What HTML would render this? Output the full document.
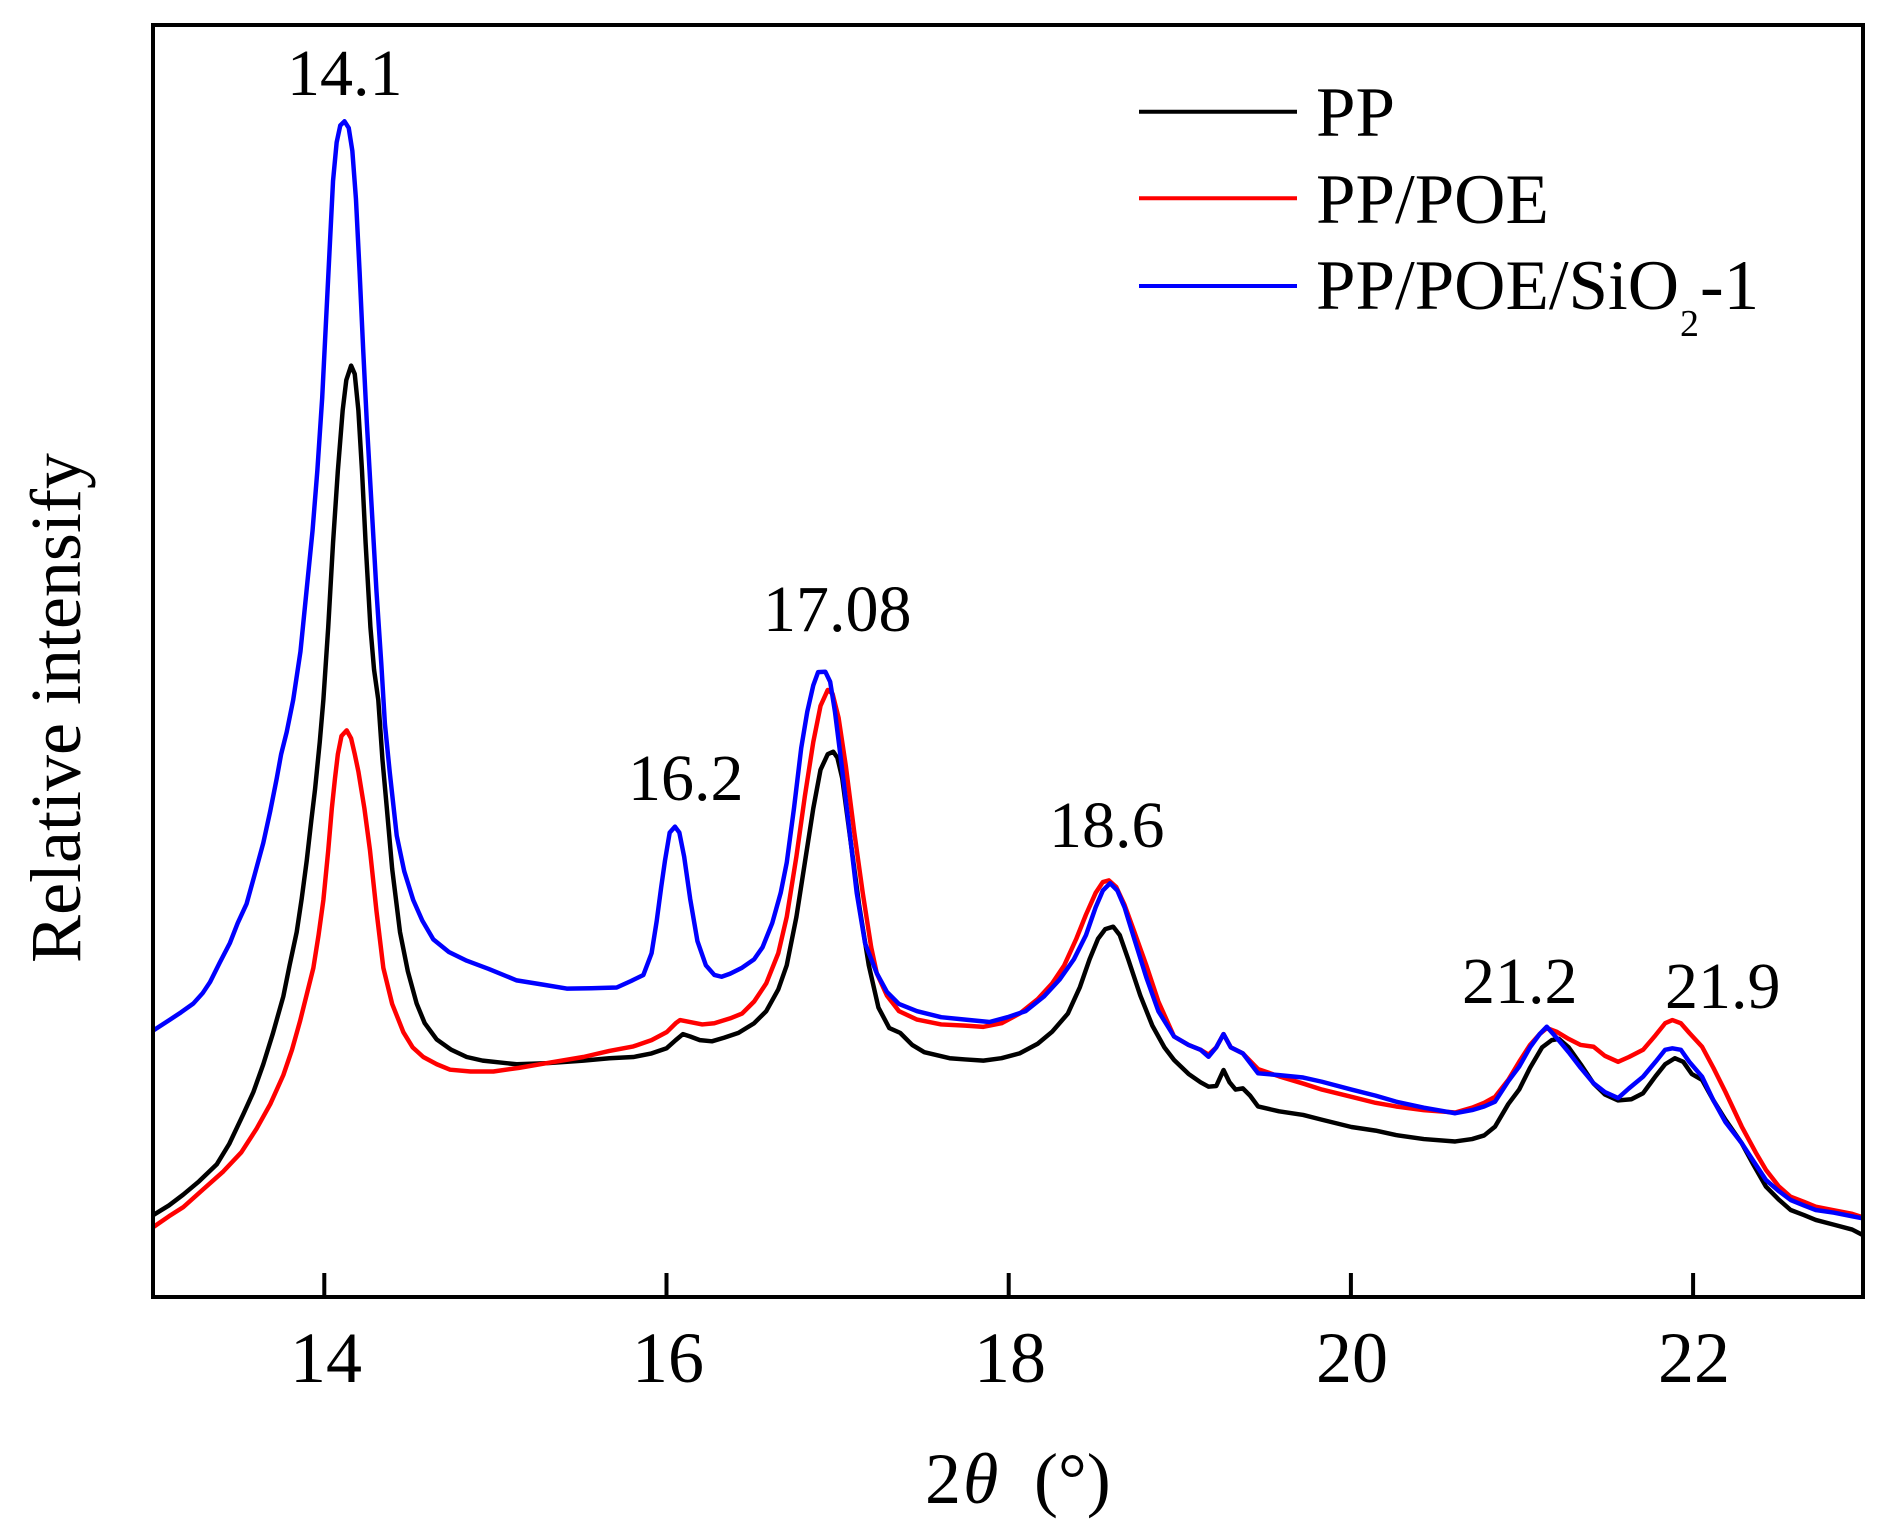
<!DOCTYPE html>
<html>
<head>
<meta charset="utf-8">
<style>
html,body{margin:0;padding:0;background:#fff;}
svg{display:block;}
text{font-family:"Liberation Serif","Times New Roman",serif;fill:#000;}
</style>
</head>
<body>
<svg width="1892" height="1540" viewBox="0 0 1892 1540" xmlns="http://www.w3.org/2000/svg">
<rect width="1892" height="1540" fill="#fff"/>

<g transform="scale(1.206633)" fill="none" stroke-width="3.7" stroke-linejoin="round" stroke-linecap="round">
<polyline stroke="#000" points="127,1007 140,999 151.9,990 165,979 179.6,965 190,948 201.6,923.5 210,905 218.2,882 226,857 234.8,825.8 240,800 245.9,772.4 250,745 254.2,713.3 258,680 261.1,654.1 265,615 268,580 272,520 276,450 280,390 284,340 287,315 291,303 294,310 297,340 300,390 303,450 307,520 310,555 313.5,580 317,630 320.5,668.8 325,720 331.5,772.4 338,805 345.3,831.7 352,848 361.9,861.4 374,870 386.8,876 400,879 428.2,882 455,881 483.4,879 505,877 524.9,876 540,873 552.5,868.7 560,862 566,857 572,859 580,862 590,863 600,860 612,856 625,848 635,838 645,820 652,800 660,760 667,715 674,670 680,638 686,625 690.6,623 694,628 698,645 704,690 712,750 720,800 728,835 737,852 746,856 756,866 766,872 787,877 800,878 815,879 830,877 845,873 860,865 872,855 885,840 895,818 903,795 910,778 916,770 922.6,768 928,775 935,795 945,825 955,850 965,868 973,878.5 985,890 995,897 1001.6,900.6 1008,900 1014,886.8 1019,897 1024,903 1030,902 1036,908 1042.6,917 1060,921 1080,924 1095.6,928 1120,934 1140,937 1157,940.7 1180,944 1206,946 1220,944 1230,941 1239,933.7 1250,915 1259,903 1268,885 1278,868 1286,862 1292,861 1300,868 1310,882 1320.7,898 1330,907 1341,912 1352,911 1361.7,906 1372,892 1380,882 1388,877 1395,880 1402,890 1410.6,895 1420,912 1430,928 1443.5,947.5 1453,965 1463.6,983.5 1474,994 1484,1002.8 1495,1007 1504.8,1011 1520,1015 1535,1019 1543.7,1023.5"/>
<polyline stroke="#ff0000" points="127,1017 140,1008 151.9,1000.4 168,986 185.1,970.8 200,955 212.7,935.3 224,915 234.8,891 242,870 248.6,846.5 254,825 259.7,802.2 264,775 268,745.9 272,705 275,670 277.6,645.3 280,625 283,610 287.3,605.3 291,612 294,625 297,639.3 302,670 306.6,704.5 312,755 317.7,802.2 325,832 334.3,855.4 342,868 350.8,876 362,882 373,886.5 390,888 408.9,888 430,885 455.8,880.6 483.4,876 505,871 524.9,867.2 540,862 552.5,855.4 560,848 563.6,845.4 572,847 582,849 592,848 605,844 615,840 625,830 635,815 645,790 652,760 660,710 667,660 674,615 680,585 686,571.8 690,575 695,595 701,635 708,690 715,740 722,785 726.6,806.5 735,825 745,838 760,845 780,849 800,850 815,851 830,848 845,840 860,828 872,815 882,800 892,778 900,758 908,740 914,731 919,729.6 925,735 932,750 940,772 950,800 960,830 973,859 985,866 995,870 1001.6,874 1008,868 1014,857 1020,868 1030,873 1042.6,886 1060,892 1080,898 1095.6,903 1120,909 1140,914 1157,917 1180,920 1206,922 1220,918 1230,914 1239,909 1250,895 1259,880 1268,866 1276,857 1282,852 1290,855 1300,861 1310,866 1320.7,867.5 1330,875 1341,880 1350,876 1361.7,870 1372,858 1380,848 1386,845.4 1393,848 1400,856 1410.6,867.5 1420,885 1430,905 1443.5,933.7 1455,955 1463.6,969.6 1474,983 1484,991.8 1495,996 1504.8,1000 1520,1003 1535,1006 1543.7,1008.8"/>
<polyline stroke="#0000ff" points="127,854 140.9,845 150,839 160.2,831.7 168,823 174,814 182,798 190.6,781.4 197,765 204.4,748.9 211,725 218.2,698.6 224,672 229.3,645.3 233,625 237.6,606.7 243,580 249,540 254,490 259,440 263,390 267,330 270,270 273,210 276,150 279,118 282,104 285.5,100.5 289,106 292,125 295,165 298,225 301,290 304,350 308,420 312,490 316,550 319,600 323,640 328.8,692.6 335,722 342.5,746 350,763 359.1,778.5 372,789 386.8,796.2 405,803 428.2,812.5 450,816 469.7,819.3 490,819 511.1,818.4 523,813 533.2,808 540,790 544.2,763.6 548,735 551.1,713.3 555,690 559.4,685.1 563,690 567,710 572,745 578,780 585,800 592,808 598,809.5 605,807 615,802 625,795 632,785 640,765 647,740 652,715 658,670 664,620 669,590 674,568 678,557 684,556.7 688,565 692,590 697,630 703,680 710,740 717,782 726.6,806.5 735,822 745,832 760,838 780,843 800,845 820,847 835,843 850,838 865,826 878,812 890,795 900,775 908,752 914,738 920,732 926,738 932,752 940,778 950,810 960,838 973,859 985,866 995,870 1001.6,875.8 1008,868 1014,857 1020,868 1030,873 1042.6,889.5 1060,891 1080,893 1095.6,896.5 1120,903 1140,908 1157,913 1180,918 1206,922.6 1220,920 1230,917 1239,913 1250,896 1259,884 1268,868 1276,857 1281.9,850.9 1290,860 1300,872 1310,885 1320.7,897.8 1330,905 1341,910 1350,902 1361.7,892.3 1372,880 1380,870 1386,868.8 1393,870 1400,880 1410.6,892.3 1420,912 1430,930 1443.5,947.5 1453,962 1463.6,978 1474,987 1484,994.5 1495,999 1504.8,1002.8 1520,1005 1535,1008 1543.7,1009.7"/>
</g>

<rect x="153" y="25" width="1710" height="1272" fill="none" stroke="#000" stroke-width="4"/>

<g stroke="#000" stroke-width="4">
<line x1="324.3" y1="1297" x2="324.3" y2="1273"/>
<line x1="666.5" y1="1297" x2="666.5" y2="1273"/>
<line x1="1008.7" y1="1297" x2="1008.7" y2="1273"/>
<line x1="1350.9" y1="1297" x2="1350.9" y2="1273"/>
<line x1="1693.1" y1="1297" x2="1693.1" y2="1273"/>
</g>

<g font-size="72" text-anchor="middle">
<text x="326" y="1382">14</text>
<text x="668" y="1382">16</text>
<text x="1010" y="1382">18</text>
<text x="1352" y="1382">20</text>
<text x="1694" y="1382">22</text>
</g>

<text font-size="72" transform="translate(80,708) rotate(-90)" text-anchor="middle">Relative intensify</text>
<text font-size="72" y="1503"><tspan x="925">2</tspan><tspan x="963" font-style="italic">θ</tspan><tspan x="1034">(°)</tspan></text>

<g font-size="66">
<text x="287" y="95">14.1</text>
<text x="628" y="800">16.2</text>
<text x="763" y="631">17.08</text>
<text x="1049" y="847">18.6</text>
<text x="1462" y="1003">21.2</text>
<text x="1665" y="1008">21.9</text>
</g>

<g stroke-width="4">
<line x1="1139" y1="111.7" x2="1297" y2="111.7" stroke="#000"/>
<line x1="1139" y1="198.3" x2="1297" y2="198.3" stroke="#ff0000"/>
<line x1="1139" y1="286" x2="1297" y2="286" stroke="#0000ff"/>
</g>
<g font-size="71">
<text x="1316" y="136">PP</text>
<text x="1316" y="223">PP/POE</text>
<text x="1316" y="309">PP/POE/SiO</text>
<text x="1680" y="336" font-size="38">2</text>
<text x="1700" y="309">-1</text>
</g>
</svg>
</body>
</html>
